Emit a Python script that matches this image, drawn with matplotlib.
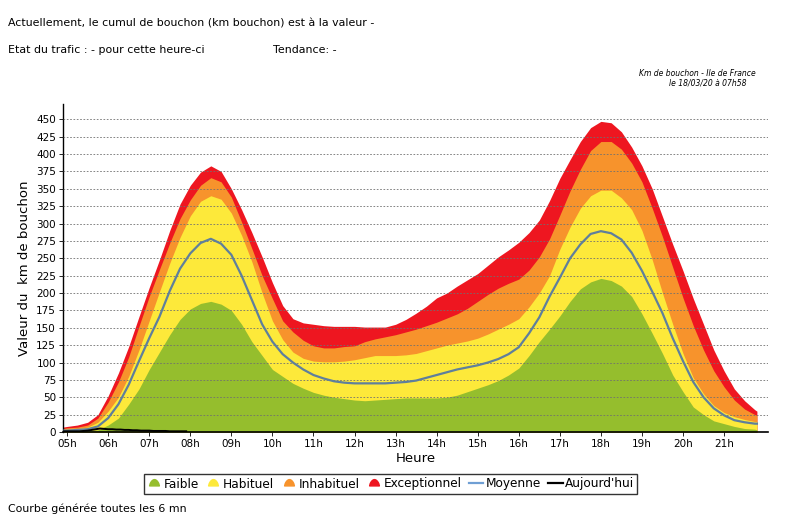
import numpy as np
import matplotlib
matplotlib.use("Agg")
import matplotlib.pyplot as plt
from matplotlib.lines import Line2D
from matplotlib.path import Path

plt.rcParams['font.family'] = ['DejaVu Sans']

# ---- data (hours, km of traffic jam) ----
hours = [4.9, 5.0, 5.25, 5.5, 5.75, 6.0, 6.25, 6.5, 6.75, 7.0, 7.25, 7.5, 7.75,
         8.0, 8.25, 8.5, 8.75, 9.0, 9.25, 9.5, 9.75, 10.0, 10.25, 10.5, 10.75,
         11.0, 11.25, 11.5, 11.75, 12.0, 12.25, 12.5, 12.75, 13.0, 13.25, 13.5,
         13.75, 14.0, 14.25, 14.5, 14.75, 15.0, 15.25, 15.5, 15.75, 16.0, 16.25,
         16.5, 16.75, 17.0, 17.25, 17.5, 17.75, 18.0, 18.25, 18.5, 18.75, 19.0,
         19.25, 19.5, 19.75, 20.0, 20.25, 20.5, 20.75, 21.0, 21.25, 21.5, 21.75, 21.8]

exceptionnel = [7, 8, 10, 14, 25, 52, 85, 123, 166, 208, 248, 290, 328,
                355, 374, 383, 375, 350, 320, 287, 252, 215, 182, 163, 157,
                155, 153, 152, 152, 152, 151, 151, 151, 155, 162, 171,
                181, 193, 200, 210, 219, 228, 240, 252, 262, 273, 287,
                305, 333, 365, 392, 418, 438, 447, 445, 432, 410, 383,
                350, 310, 270, 232, 192, 155, 118, 88, 62, 45, 32, 30]

inhabituel = [5, 6, 7, 10, 20, 43, 72, 108, 152, 195, 234, 272, 307,
              334, 355, 366, 360, 338, 302, 264, 225, 192, 160, 144, 132,
              124, 121, 121, 123, 124, 130, 134, 137, 140, 144, 148,
              153, 158, 164, 170, 178, 188, 198, 207, 214, 220, 233,
              252, 278, 312, 347, 378, 405, 418, 418, 407, 387, 360,
              322, 281, 237, 193, 153, 118, 88, 65, 46, 33, 25, 24]

habituel = [4, 4, 5, 7, 14, 30, 50, 80, 118, 160, 202, 243, 280,
            311, 332, 340, 335, 315, 283, 245, 200, 160, 133, 115, 106,
            102, 101, 101, 102, 104, 107, 110, 110, 110, 111, 113,
            117, 121, 125, 128, 131, 135, 141, 148, 155, 163, 180,
            200, 225, 263, 295, 322, 340, 348, 348, 337, 320, 290,
            248, 200, 155, 113, 78, 55, 38, 28, 22, 18, 15, 15]

faible = [1, 1, 1, 2, 3, 10, 20, 40, 62, 90, 115, 140, 162,
          177, 185, 188, 184, 175, 155, 130, 110, 90, 80, 70, 63,
          57, 53, 50, 48, 46, 45, 46, 47, 48, 49, 49,
          49, 49, 50, 53, 58, 63, 68, 74, 82, 92, 110,
          130, 148, 167, 188, 206, 216, 221, 218, 210, 195, 170,
          142, 113, 82, 58, 36, 25, 16, 12, 8, 5, 4, 3]

moyenne = [2, 2, 3, 4, 8, 20, 40, 68, 102, 135, 166, 203, 235,
           257, 272, 278, 271, 255, 225, 190, 155, 130, 112, 100, 90,
           82, 77, 73, 71, 70, 70, 70, 70, 71, 72, 74,
           78, 82, 86, 90, 93, 96, 100, 105, 112, 122, 142,
           165, 195, 222, 250, 270, 285, 289, 286, 277, 258, 232,
           202, 171, 135, 102, 72, 50, 34, 24, 17, 14, 12, 12]

today_hours = [4.9, 5.0, 5.1, 5.2, 5.3, 5.4, 5.5, 5.6, 5.7, 5.8, 5.9, 6.0, 6.1,
               6.2, 6.3, 6.4, 6.5, 6.6, 6.7, 6.8, 6.9, 7.0, 7.1, 7.2, 7.3,
               7.4, 7.5, 7.6, 7.7, 7.8, 7.9]
aujourdhui = [1, 1, 1, 1, 1, 1.5, 2, 3, 4, 5, 4.5, 4, 4,
              3.5, 3.5, 3, 3, 2.5, 2.5, 2, 2, 2, 1.5, 1.5, 1.5,
              1.5, 1, 1, 1, 1, 1]

tick_hours = list(range(5, 22))
tick_labels = [f"{h:02d}h" for h in tick_hours]
y_ticks = list(range(0, 451, 25))

# ---- colours ----
c_faible = "#95be2d"
c_habituel = "#fde93a"
c_inhabituel = "#f7932c"
c_exception = "#ee1620"
c_moyenne = "#5f7f9c"
c_today = "#000000"

fig = plt.figure(figsize=(7.85, 5.15), dpi=100)
ax = fig.add_axes([63 / 785, 1 - 432 / 515, (768 - 63) / 785, (432 - 104) / 515])

ax.fill_between(hours, 0, exceptionnel, color=c_exception, lw=0, zorder=1)
ax.fill_between(hours, 0, inhabituel, color=c_inhabituel, lw=0, zorder=1.1)
ax.fill_between(hours, 0, habituel, color=c_habituel, lw=0, zorder=1.2)
ax.fill_between(hours, 0, faible, color=c_faible, lw=0, zorder=1.3)
ax.plot(hours, moyenne, color=c_moyenne, lw=1.6, zorder=3)
ax.plot(today_hours, aujourdhui, color=c_today, lw=1.4, zorder=3.2)

ax.set_xlim(4.9, 22.07)
ax.set_ylim(0, 472)
ax.set_xticks(tick_hours)
ax.set_xticklabels(tick_labels, fontsize=7.5)
ax.set_yticks(y_ticks)
ax.set_yticklabels([str(v) for v in y_ticks], fontsize=7.5)
ax.tick_params(axis='x', length=3, width=0.6, pad=2)
ax.tick_params(axis='y', length=3, width=0.6, pad=2)

ax.yaxis.grid(True, color="#707070", linestyle=(0, (2, 2)), lw=0.6, zorder=2.5)
ax.set_axisbelow(False)
for s in ['top', 'right']:
    ax.spines[s].set_visible(False)
ax.spines['left'].set_linewidth(1.0)
ax.spines['bottom'].set_linewidth(1.2)

ax.set_xlabel("Heure", fontsize=9.5, labelpad=2)
ax.set_ylabel("Valeur du  km de bouchon", fontsize=9.5, labelpad=4)

# ---- texts ----
fs_top = 7.95
fig.text(8 / 785, 1 - 23 / 515, "Actuellement, le cumul de bouchon (km bouchon) est à la valeur -",
         fontsize=fs_top, va='center', ha='left')
fig.text(8 / 785, 1 - 50 / 515, "Etat du trafic : - pour cette heure-ci",
         fontsize=fs_top, va='center', ha='left')
fig.text(273 / 785, 1 - 50 / 515, "Tendance: -", fontsize=fs_top, va='center', ha='left')
fig.text(697 / 785, 1 - 73 / 515, "Km de bouchon - Ile de France", fontsize=5.5,
         style='italic', va='center', ha='center')
fig.text(708 / 785, 1 - 83 / 515, "le 18/03/20 à 07h58", fontsize=5.5,
         style='italic', va='center', ha='center')
fig.text(8 / 785, 1 - 513.5 / 515, "Courbe générée toutes les 6 mn", fontsize=fs_top,
         va='bottom', ha='left')

# ---- legend ----
t = np.linspace(-1, 1, 21)
bell_verts = [(x, np.cos(x * np.pi / 2) ** 0.6 * 1.3 - 0.5) for x in t] + [(1, -0.5), (-1, -0.5)]
bell = Path(bell_verts + [bell_verts[0]], closed=True)
handles = [
    Line2D([], [], marker=bell, ls='none', color=c_faible, markersize=7),
    Line2D([], [], marker=bell, ls='none', color=c_habituel, markersize=7),
    Line2D([], [], marker=bell, ls='none', color=c_inhabituel, markersize=7),
    Line2D([], [], marker=bell, ls='none', color=c_exception, markersize=7),
    Line2D([], [], color="#6f9fd4", lw=1.6),
    Line2D([], [], color=c_today, lw=1.6),
]
labels = ["Faible", "Habituel", "Inhabituel", "Exceptionnel", "Moyenne", "Aujourd'hui"]
leg = fig.legend(handles, labels, loc='center', bbox_to_anchor=(390.5 / 785, 1 - 484 / 515),
                 ncol=6, fontsize=8.7, frameon=True, fancybox=False, handlelength=1.2,
                 handletextpad=0.2, columnspacing=0.6, borderpad=0.25, borderaxespad=0)
leg.get_frame().set_edgecolor('black')
leg.get_frame().set_linewidth(1.0)

fig.savefig("out.png", dpi=100)
